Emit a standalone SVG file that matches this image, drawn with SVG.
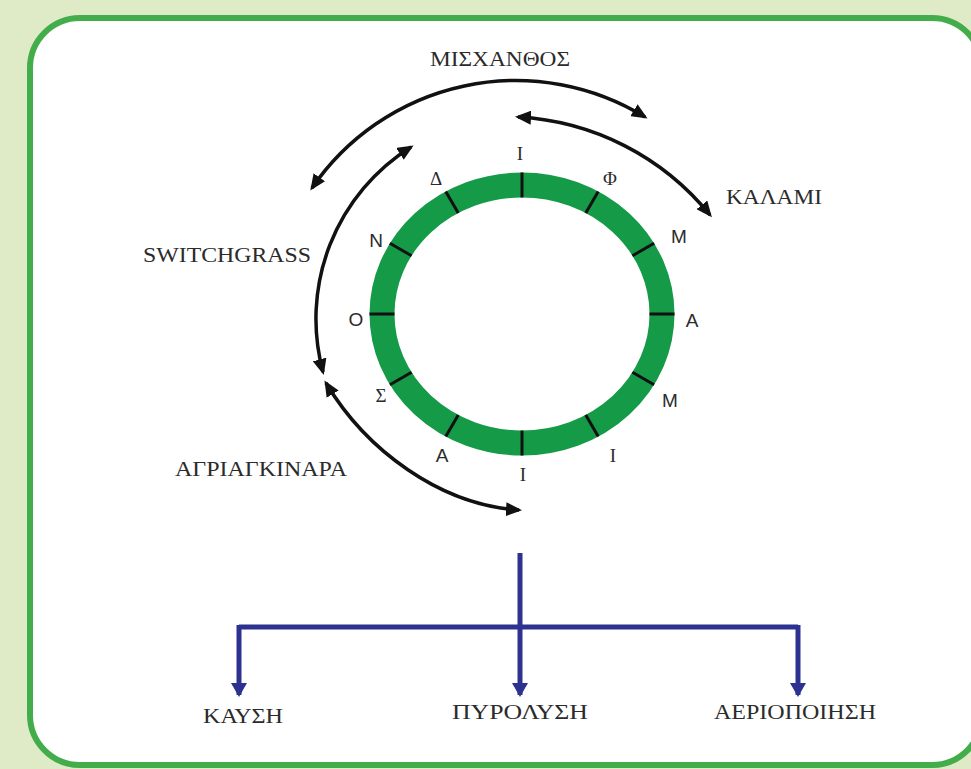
<svg xmlns="http://www.w3.org/2000/svg" width="971" height="769" viewBox="0 0 971 769">
  <defs>
    <style>
      .lbl { font-family: "Liberation Serif", "Times New Roman", serif; font-size: 22px; fill: #2b2b2b; }
      .mon { font-family: "Liberation Serif", "Times New Roman", serif; font-size: 19px; fill: #2b2b2b; text-anchor: middle; }
      .mons { font-family: "Liberation Sans", Arial, sans-serif; font-size: 19px; fill: #2b2b2b; text-anchor: middle; }
      .arc { fill: none; stroke: #111; stroke-width: 3.5; }
      .tick { stroke: #111; stroke-width: 3; }
      .flow { fill: none; stroke: #2d3190; stroke-width: 5; }
    </style>
    <marker id="ah" viewBox="0 0 16 14" refX="13" refY="7" markerWidth="16" markerHeight="14" markerUnits="userSpaceOnUse" orient="auto-start-reverse">
      <path d="M0,0 L16,7 L0,14 z" fill="#111"/>
    </marker>
    <marker id="bh" viewBox="0 0 14 16" refX="12" refY="8" markerWidth="14" markerHeight="16" markerUnits="userSpaceOnUse" orient="auto">
      <path d="M0,0 L14,8 L0,16 z" fill="#2d3190"/>
    </marker>
  </defs>

  <!-- page background and rounded frame -->
  <rect x="0" y="0" width="971" height="769" fill="#dfeac6"/>
  <rect x="30" y="18" width="952" height="747" rx="50" ry="50" fill="#ffffff" stroke="#43ad4b" stroke-width="6"/>

  <!-- calendar ring with month ticks -->
  <g id="ring">
    <ellipse cx="522" cy="314" rx="140" ry="129" fill="none" stroke="#159a48" stroke-width="25"/>
    <line class="tick" x1="522" y1="197.5" x2="522" y2="172.5"/>
    <line class="tick" x1="585.75" y1="213.1" x2="598.25" y2="191.5"/>
    <line class="tick" x1="632.4" y1="255.75" x2="654.1" y2="243.25"/>
    <line class="tick" x1="649.5" y1="314" x2="674.5" y2="314"/>
    <line class="tick" x1="632.4" y1="372.25" x2="654.1" y2="384.75"/>
    <line class="tick" x1="585.75" y1="414.9" x2="598.25" y2="436.5"/>
    <line class="tick" x1="522" y1="430.5" x2="522" y2="455.5"/>
    <line class="tick" x1="458.25" y1="414.9" x2="445.75" y2="436.5"/>
    <line class="tick" x1="411.6" y1="372.25" x2="389.9" y2="384.75"/>
    <line class="tick" x1="394.5" y1="314" x2="369.5" y2="314"/>
    <line class="tick" x1="411.6" y1="255.75" x2="389.9" y2="243.25"/>
    <line class="tick" x1="458.25" y1="213.1" x2="445.75" y2="191.5"/>
  </g>

  <!-- month initials -->
  <g id="months">
    <text class="mon" x="520" y="160">Ι</text>
    <text class="mon" x="610" y="185">Φ</text>
    <text class="mons" x="679" y="243">Μ</text>
    <text class="mons" x="692" y="327">Α</text>
    <text class="mons" x="670" y="407">Μ</text>
    <text class="mon" x="613" y="462">Ι</text>
    <text class="mon" x="523" y="481">Ι</text>
    <text class="mons" x="442" y="462">Α</text>
    <text class="mon" x="381" y="402">Σ</text>
    <text class="mons" x="356" y="326">Ο</text>
    <text class="mons" x="376" y="247">Ν</text>
    <text class="mon" x="436" y="185">Δ</text>
  </g>

  <!-- crop labels -->
  <g id="miscanthus"><text class="lbl" x="430" y="66" textLength="140" lengthAdjust="spacingAndGlyphs">ΜΙΣΧΑΝΘΟΣ</text></g>
  <g id="kalami"><text class="lbl" x="726" y="204" textLength="96" lengthAdjust="spacingAndGlyphs">ΚΑΛΑΜΙ</text></g>
  <g id="switchgrass"><text class="lbl" x="143" y="262" textLength="168" lengthAdjust="spacingAndGlyphs">SWITCHGRASS</text></g>
  <g id="agriagkinara"><text class="lbl" x="175" y="476" textLength="172" lengthAdjust="spacingAndGlyphs">ΑΓΡΙΑΓΚΙΝΑΡΑ</text></g>

  <!-- conversion routes -->
  <g id="kausi"><text class="lbl" x="203" y="723" textLength="80" lengthAdjust="spacingAndGlyphs">ΚΑΥΣΗ</text></g>
  <g id="pyrolysi"><text class="lbl" x="452" y="719" textLength="136" lengthAdjust="spacingAndGlyphs">ΠΥΡΟΛΥΣΗ</text></g>
  <g id="aeriopoiisi"><text class="lbl" x="714" y="719" textLength="162" lengthAdjust="spacingAndGlyphs">ΑΕΡΙΟΠΟΙΗΣΗ</text></g>

  <!-- connectors: harvest periods and process tree -->
  <g id="connectors">
    <path class="arc" d="M312,188 A247,247 0 0 1 645,117" marker-start="url(#ah)" marker-end="url(#ah)"/>
    <path class="arc" d="M518,117 A265,265 0 0 1 710,215" marker-start="url(#ah)" marker-end="url(#ah)"/>
    <path class="arc" d="M411,147 A203,203 0 0 0 323,372" marker-start="url(#ah)" marker-end="url(#ah)"/>
    <path class="arc" d="M326,383 C366,450 440,505 519,510" marker-start="url(#ah)" marker-end="url(#ah)"/>

    <path class="flow" d="M520,553 V627"/>
    <path class="flow" d="M239,627 H798"/>
    <path class="flow" d="M239,625 V695" marker-end="url(#bh)"/>
    <path class="flow" d="M520,627 V695" marker-end="url(#bh)"/>
    <path class="flow" d="M798,625 V695" marker-end="url(#bh)"/>
  </g>
</svg>
